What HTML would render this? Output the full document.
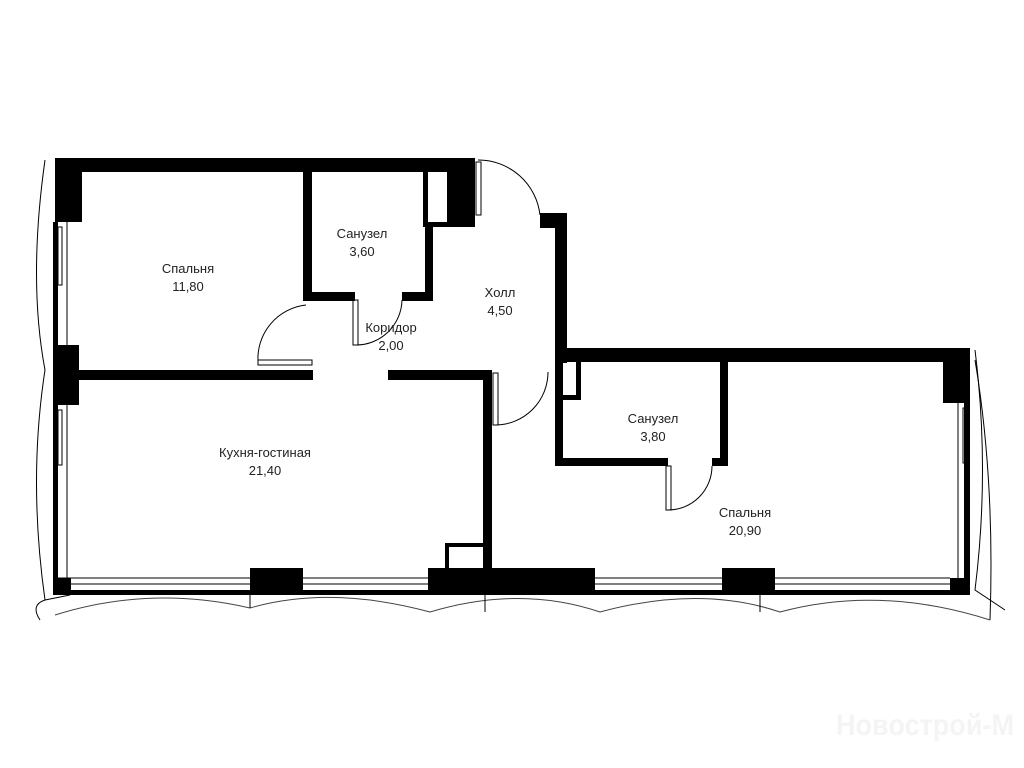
<!DOCTYPE html>
<html><head><meta charset="utf-8"><style>
html,body{margin:0;padding:0;background:#fff;width:1024px;height:768px;overflow:hidden}
svg text{font-family:"Liberation Sans","DejaVu Sans",sans-serif;font-size:13px;fill:#222;text-anchor:middle}
</style></head><body>
<svg width="1024" height="768" viewBox="0 0 1024 768" xmlns="http://www.w3.org/2000/svg">
<g fill="#000">
<rect x="55" y="158" width="406" height="14"/>
<rect x="55" y="158" width="27" height="64"/>
<rect x="455" y="158" width="20" height="57"/>
<rect x="430" y="207" width="45" height="20"/>
<rect x="423" y="171" width="37" height="56"/>
<rect x="303" y="171" width="9" height="130"/>
<rect x="303" y="292" width="52" height="9"/>
<rect x="402" y="292" width="30" height="9"/>
<rect x="425" y="222" width="8" height="79"/>
<rect x="53" y="222" width="5" height="373"/>
<rect x="55" y="345" width="24" height="60"/>
<rect x="78" y="370" width="235" height="10"/>
<rect x="388" y="370" width="102" height="10"/>
<rect x="483" y="370" width="9" height="202"/>
<rect x="540" y="213" width="27" height="15"/>
<rect x="555" y="213" width="12" height="150"/>
<rect x="555" y="348" width="413" height="14"/>
<rect x="943" y="348" width="25" height="55"/>
<rect x="964" y="348" width="6" height="247"/>
<rect x="555" y="360" width="8" height="106"/>
<rect x="555" y="395" width="26" height="5"/>
<rect x="576" y="362" width="5" height="38"/>
<rect x="555" y="458" width="113" height="8"/>
<rect x="712" y="458" width="16" height="8"/>
<rect x="720" y="362" width="8" height="104"/>
<rect x="55" y="590" width="915" height="5"/>
<rect x="55" y="578" width="16" height="17"/>
<rect x="250" y="568" width="53" height="27"/>
<rect x="428" y="568" width="167" height="27"/>
<rect x="722" y="568" width="53" height="27"/>
<rect x="950" y="578" width="20" height="17"/>
<rect x="445" y="543" width="45" height="4"/>
<rect x="445" y="543" width="4" height="27"/>
</g>
<rect x="428" y="172" width="19" height="50" fill="#fff"/>
<g fill="none" stroke="#000" stroke-width="1">
<line x1="58" y1="578" x2="950" y2="578"/>
<line x1="58" y1="584" x2="950" y2="584"/>
<rect x="58" y="227" width="4" height="58"/>
<rect x="58" y="410" width="4" height="55"/>
<rect x="963" y="408" width="4" height="55"/>
<line x1="67" y1="222" x2="67" y2="345"/>
<line x1="67" y1="405" x2="67" y2="578"/>
<line x1="958" y1="403" x2="958" y2="578"/>
<path d="M45 160 Q28 280 45 370 Q28 480 45 600 L70 595"/>
<path d="M45 600 Q30 605 40 620"/>
<path d="M975 350 Q990 470 975 590 L1005 610"/>
<path d="M975 360 Q995 480 990 620"/>
<path d="M55 615 Q150 585 250 608 Q330 585 430 612 Q520 585 600 612 Q700 585 780 612 Q880 585 990 620" stroke="#444"/>
<line x1="250" y1="595" x2="250" y2="608"/>
<line x1="485" y1="595" x2="485" y2="612"/>
<line x1="760" y1="595" x2="760" y2="612"/>
<rect x="258" y="360" width="54" height="5"/>
<path d="M258 362 A54 54 0 0 1 306 305"/>
<rect x="353" y="300" width="5" height="45"/>
<path d="M356 345 A46 46 0 0 0 402 300"/>
<rect x="476" y="162" width="5" height="53"/>
<path d="M478 160 A62 62 0 0 1 540 215"/>
<rect x="493" y="373" width="5" height="52"/>
<path d="M495 425 A53 53 0 0 0 548 372"/>
<rect x="666" y="466" width="5" height="44"/>
<path d="M668 510 A44 44 0 0 0 712 466"/>
</g>
<text x="188" y="273">Спальня</text><text x="188" y="291">11,80</text>
<text x="362" y="238">Санузел</text><text x="362" y="256">3,60</text>
<text x="500" y="297">Холл</text><text x="500" y="315">4,50</text>
<text x="391" y="332">Коридор</text><text x="391" y="350">2,00</text>
<text x="265" y="457">Кухня-гостиная</text><text x="265" y="475">21,40</text>
<text x="653" y="423">Санузел</text><text x="653" y="441">3,80</text>
<text x="745" y="517">Спальня</text><text x="745" y="535">20,90</text>
<text x="925" y="735" textLength="178" lengthAdjust="spacingAndGlyphs" style="font-size:30px;font-weight:bold;fill:#f4f4f4">Новострой-М</text>
</svg>
</body></html>
